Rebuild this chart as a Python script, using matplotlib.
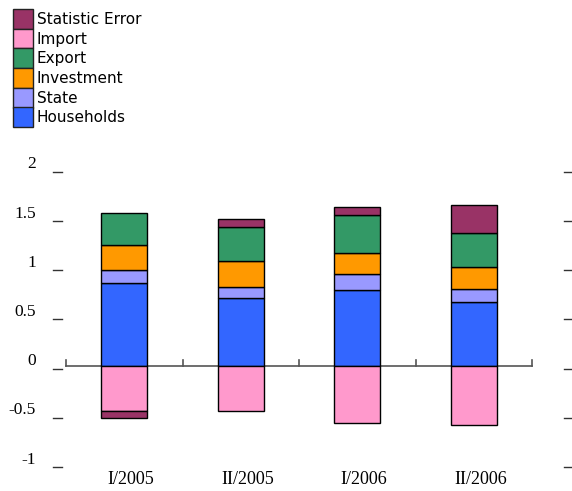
import matplotlib.pyplot as plt
from matplotlib.patches import Rectangle
from matplotlib.transforms import blended_transform_factory, offset_copy
import numpy as np

# quarterly contributions to GDP growth, percentage points
periods = ["I/2005", "II/2005", "I/2006", "II/2006"]
households = [0.844, 0.685, 0.766, 0.644]
state = [0.125, 0.118, 0.163, 0.139]
investment = [0.261, 0.264, 0.219, 0.223]
export = [0.319, 0.339, 0.380, 0.343]
imports = [-0.464, -0.464, -0.585, -0.606]
stat_error = [-0.064, 0.082, 0.082, 0.281]

yticks = [-1, -0.5, 0, 0.5, 1, 1.5, 2]
yticklabels = ["-1", "-0.5", "0", "0.5", "1", "1.5", "2"]

colors = {
    "Statistic Error": "#993366",
    "Import": "#FF99CC",
    "Export": "#339966",
    "Investment": "#FF9900",
    "State": "#9999FF",
    "Households": "#3366FF",
}

W, H = 572, 491
fig = plt.figure(figsize=(W / 100, H / 100), dpi=100)
ax = fig.add_axes([66 / W, 1 - 464.1 / H, 466 / W, (464.1 - 168.9) / H])
ax.set_xlim(-0.5, 3.5)
ax.set_ylim(-1, 2)
ax.axis("off")

x = np.arange(len(periods))
bw = 0.395
pos_base = np.zeros(len(periods))
neg_base = np.zeros(len(periods))
series = [("Households", households), ("State", state), ("Investment", investment),
          ("Export", export), ("Import", imports), ("Statistic Error", stat_error)]
for name, vals in series:
    vals = np.array(vals)
    bottoms = np.where(vals >= 0, pos_base, neg_base)
    ax.bar(x, vals, bw, bottom=bottoms, color=colors[name],
           edgecolor="black", linewidth=1.0, zorder=3)
    pos_base = pos_base + np.where(vals >= 0, vals, 0)
    neg_base = neg_base + np.where(vals < 0, vals, 0)

# zero axis with category separators
ax.plot([-0.5, 3.5], [0, 0], color="#555555", lw=1.2, zorder=2, clip_on=False)
for b in np.arange(-0.5, 4, 1):
    ax.plot([b, b], [0, 0.055], color="#555555", lw=1.2, zorder=2, clip_on=False)

# y tick dashes on both sides and labels on the left
tr = blended_transform_factory(ax.transAxes, ax.transData)
for v, lab in zip(yticks, yticklabels):
    ax.plot([(53 - 66) / 466, (62 - 66) / 466], [v - 0.03, v - 0.03],
            color="#333333", lw=1.0, transform=tr, clip_on=False)
    ax.plot([(564 - 66) / 466, (572 - 66) / 466], [v - 0.03, v - 0.03],
            color="#333333", lw=1.0, transform=tr, clip_on=False)
    ax.text((36 - 66) / 466, v + 0.045, lab, transform=tr, ha="right", va="center",
            family="Liberation Serif", fontsize=12.5)

xlab_tr = offset_copy(ax.transData, fig=fig, x=7, y=0, units="dots")
for xi, p in zip(x, periods):
    ax.text(xi, -1.155, p, ha="center", va="center", transform=xlab_tr,
            family="Liberation Serif", fontsize=13, clip_on=False)

# legend drawn by hand in figure pixels
order = ["Statistic Error", "Import", "Export", "Investment", "State", "Households"]
for i, name in enumerate(order):
    top = 9 + i * 19.7
    fig.patches.append(Rectangle((13 / W, 1 - (top + 19.7) / H), 20 / W, 19.7 / H,
                                 transform=fig.transFigure, facecolor=colors[name],
                                 edgecolor="#222222", linewidth=1.0))
    fig.text(37 / W, 1 - (top + 10.5) / H, name, ha="left", va="center",
             family="DejaVu Sans", fontsize=11)

fig.savefig("out.png", dpi=100)
